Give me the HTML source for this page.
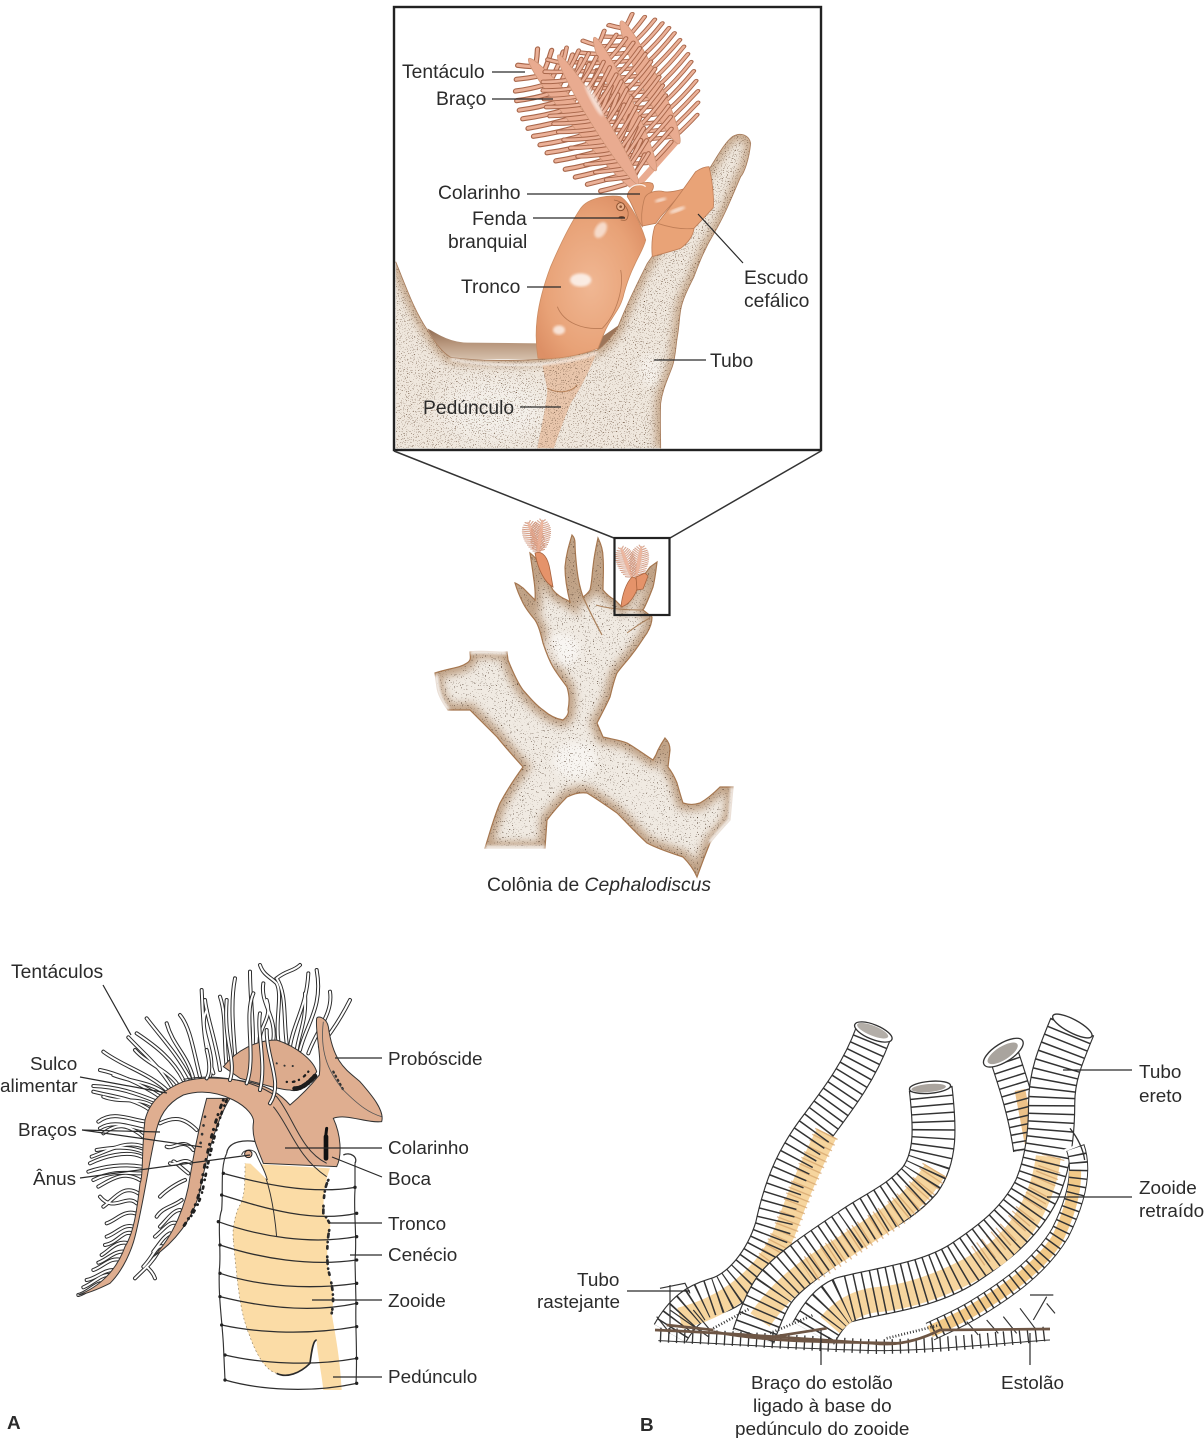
<!DOCTYPE html>
<html><head><meta charset="utf-8"><style>
html,body{margin:0;padding:0;background:#fff}
svg{display:block}
text{font-family:"Liberation Sans",sans-serif;font-size:18.9px;fill:#2b2b2b}
.big text,text.big{font-size:19.3px}
.ld{stroke:#2a2a2a;stroke-width:1.2;fill:none}
</style></head><body>
<svg width="1204" height="1438" viewBox="0 0 1204 1438" xmlns="http://www.w3.org/2000/svg">
<defs>
<filter id="spA" x="0" y="0" width="100%" height="100%" color-interpolation-filters="sRGB"><feTurbulence type="fractalNoise" baseFrequency=".3" numOctaves="2" seed="5"/><feColorMatrix values="0 0 0 0 .4 0 0 0 0 .3 0 0 0 0 .22 11 0 0 0 -7.1"/><feComposite in2="SourceAlpha" operator="in"/></filter>
<filter id="spB" x="0" y="0" width="100%" height="100%" color-interpolation-filters="sRGB"><feTurbulence type="fractalNoise" baseFrequency=".75" numOctaves="2" seed="8"/><feColorMatrix values="0 0 0 0 .3 0 0 0 0 .22 0 0 0 0 .16 11 0 0 0 -7.4"/><feComposite in2="SourceAlpha" operator="in"/></filter>
<filter id="b1"><feGaussianBlur stdDeviation="1.5"/></filter>
<filter id="b4"><feGaussianBlur stdDeviation="4"/></filter>
<filter id="b12" x="-30%" y="-30%" width="160%" height="160%"><feGaussianBlur stdDeviation="12"/></filter>
<filter id="b30" x="-50%" y="-50%" width="200%" height="200%"><feGaussianBlur stdDeviation="30"/></filter>
<radialGradient id="gT" cx=".5" cy=".55" r=".6"><stop offset="0" stop-color="#f0b793"/><stop offset=".7" stop-color="#e8a277"/><stop offset="1" stop-color="#dd9066"/></radialGradient>
<linearGradient id="gW" x1="0" y1="0" x2="0" y2="1"><stop offset="0" stop-color="#8f6a50"/><stop offset=".5" stop-color="#b8977d"/><stop offset="1" stop-color="#d5c0ac"/></linearGradient>
<path id="fr" d="M5,785 C40,870 60,930 100,990 C130,1040 150,1060 170,1072 C260,1085 360,1082 450,1078 C510,1070 570,1062 610,1050 C640,1030 660,1000 670,985 C700,910 730,850 760,790 C830,690 900,590 950,500 C975,460 995,425 1015,410 C1040,395 1065,405 1070,430 C1065,480 1050,520 1040,530 C1010,600 990,650 960,700 C930,750 915,790 900,830 C880,870 865,900 860,930 C855,960 855,985 850,1010 C845,1040 845,1070 835,1100 C820,1140 805,1170 800,1210 C798,1260 800,1300 800,1345 L5,1345 Z"/>
<path id="frE" d="M5,785 C40,870 60,930 100,990 C130,1040 150,1060 170,1072 C260,1085 360,1082 450,1078 C510,1070 570,1062 610,1050 C640,1030 660,1000 670,985 C700,910 730,850 760,790 C830,690 900,590 950,500 C975,460 995,425 1015,410 C1040,395 1065,405 1070,430 C1065,480 1050,520 1040,530 C1010,600 990,650 960,700 C930,750 915,790 900,830 C880,870 865,900 860,930 C855,960 855,985 850,1010 C845,1040 845,1070 835,1100 C820,1140 805,1170 800,1210 C798,1260 800,1300 800,1345"/>
<clipPath id="frc"><use href="#fr"/></clipPath>
<path id="col" d="M435,673 C450,668 460,668 467,663 C472,660 470,656 470,652 C485,650 495,653 507,652 L508,660 C512,670 517,682 523,690 C530,698 536,705 543,710 C550,716 556,719 563,720 C568,716 569,712 568,710 C570,700 569,694 567,687 C562,680 557,674 553,667 C549,660 546,652 543,643 C541,635 539,626 535,620 C530,614 526,609 523,603 C520,597 517,590 515,583 C518,584 520,586 523,588 L535,600 C536,590 534,582 533,573 L530,553 C535,557 539,562 542,567 C546,575 549,583 553,590 C557,595 562,598 567,600 L570,602 C567,590 565,578 565,567 C566,555 569,545 572,535 C574,537 575,540 575,543 C575,552 576,561 577,570 C578,579 580,588 583,597 C586,595 588,593 590,590 C592,582 592,574 593,567 C594,557 596,547 598,538 C601,544 603,550 603,557 C604,568 603,579 603,590 C607,595 611,598 615,600 L622,607 L628,597 L650,567 L657,562 C656,570 655,579 653,587 C650,595 647,603 643,610 L652,617 C652,622 650,628 647,633 C642,640 638,647 633,653 C628,660 622,666 617,673 C614,680 612,689 610,697 C606,706 601,715 597,723 L603,737 C611,739 620,740 627,743 C636,748 645,755 653,760 C655,757 657,753 658,750 C660,746 663,741 665,738 C668,741 670,745 670,750 L668,767 C672,772 675,778 677,783 C679,790 681,797 683,803 C689,805 694,805 700,803 C707,799 714,793 720,787 L733,787 L730,820 C723,828 716,835 710,843 C705,855 701,866 697,877 C694,870 689,863 683,857 C671,853 658,849 647,843 C636,833 627,823 617,813 C607,806 597,799 587,793 C580,792 573,794 567,797 C560,804 553,812 547,820 L545,848 L485,848 C490,832 494,817 500,803 C507,790 515,778 523,767 C514,757 505,747 497,737 C488,728 479,719 470,710 L448,710 C442,702 438,695 437,687 Z"/>
<clipPath id="colc"><use href="#col"/></clipPath>
<g id="teeth" fill="none" stroke-linecap="round">
 <path d="M20,12 Q35,45 50,71 M50,12 Q68,50 88,86 M80,12 Q100,55 125,98 M110,12 Q130,60 160,105 M140,12 Q162,60 195,110 M170,12 Q192,62 228,114 M200,12 Q222,62 258,115 M230,12 Q252,62 288,114 M260,12 Q282,60 315,112 M290,12 Q312,60 345,107 M320,12 Q340,58 370,100 M350,12 Q368,52 395,90 M380,12 Q396,46 418,77 M410,10 Q425,35 442,57 M440,5 Q455,20 470,32"/>
</g>
<g id="arm">
 <use href="#teeth" stroke="#a8664a" stroke-width="14"/>
 <use href="#teeth" stroke="#a8664a" stroke-width="14" transform="scale(1,-1)"/>
 <use href="#teeth" stroke="#ebb198" stroke-width="8"/>
 <use href="#teeth" stroke="#ebb198" stroke-width="8" transform="scale(1,-1)"/>
 <ellipse cx="225" cy="0" rx="240" ry="22" fill="#e9ab90" stroke="#cf9678" stroke-width="2"/>
</g>
<g id="tb" fill="none" stroke-linecap="round">
<path d="M660,300 C640,220 670,140 650,100 C630,80 610,75 600,45"/>
<path d="M680,280 C670,200 680,130 650,85 C680,60 700,65 720,45"/>
<path d="M690,290 C700,220 740,170 745,70"/>
<path d="M720,300 C740,220 790,170 770,60"/>
<path d="M745,310 C770,240 820,190 810,125"/>
<path d="M780,290 C820,240 850,190 870,150"/>
<path d="M640,270 C650,200 600,160 610,100"/>
<path d="M570,370 C590,260 570,170 570,65"/>
<path d="M530,370 C520,250 510,160 525,85"/>
<path d="M500,350 C490,260 500,200 480,140"/>
<path d="M480,360 C470,280 440,200 435,150"/>
<path d="M460,370 C430,280 430,220 425,120"/>
<path d="M420,380 C400,300 390,230 360,195"/>
<path d="M390,385 C350,310 310,270 260,205"/>
<path d="M370,390 C340,330 290,290 230,250"/>
<path d="M335,410 C290,340 260,320 205,262"/>
<path d="M325,425 C270,370 190,350 130,305"/>
<path d="M300,440 C240,400 170,370 120,360"/>
<path d="M290,455 C230,430 170,410 100,408"/>
<path d="M270,480 C220,445 160,440 100,425"/>
<path d="M260,515 C210,510 160,480 115,515"/>
<path d="M250,560 C200,520 170,520 130,550"/>
<path d="M250,590 C200,570 150,600 95,620"/>
<path d="M245,620 C200,600 130,620 90,640"/>
<path d="M245,650 C190,640 130,650 85,665"/>
<path d="M240,690 C190,660 150,690 115,710"/>
<path d="M235,730 C190,700 160,750 130,770"/>
<path d="M225,790 C190,780 170,810 140,820"/>
<path d="M220,830 C190,820 170,850 140,860"/>
<path d="M205,880 C170,870 150,900 125,915"/>
<path d="M185,930 C150,920 130,950 100,960"/>
<path d="M160,960 C130,960 110,985 80,990"/>
<path d="M120,1000 C100,1005 80,1030 55,1035"/>
<path d="M410,540 C370,500 340,500 300,520"/>
<path d="M400,600 C370,560 340,600 320,590"/>
<path d="M385,670 C360,650 340,630 340,635"/>
<path d="M375,690 C350,700 320,720 300,740"/>
<path d="M365,750 C340,770 310,770 290,800"/>
<path d="M350,820 C330,810 310,840 285,860"/>
<path d="M310,890 C290,880 280,920 250,950"/>
<path d="M295,905 C275,940 250,960 225,985"/>
<path d="M260,950 C270,960 280,970 285,985"/>
</g>
<g id="tb2" fill="none" stroke-linecap="round">
<path d="M450,380 C470,300 410,240 440,180"/>
<path d="M400,385 C380,310 340,290 320,220"/>
<path d="M350,400 C320,360 260,340 225,300"/>
<path d="M315,430 C270,395 210,395 160,375"/>
<path d="M280,470 C240,440 180,460 130,440"/>
<path d="M255,540 C210,530 160,510 120,535"/>
<path d="M248,605 C210,590 170,590 110,600"/>
<path d="M242,670 C200,670 160,660 100,690"/>
<path d="M230,760 C200,730 160,790 120,740"/>
<path d="M215,850 C190,840 170,880 135,885"/>
<path d="M195,905 C165,900 140,930 115,938"/>
<path d="M145,975 C120,975 100,1000 70,1012"/>
<path d="M395,640 C370,620 350,650 330,640"/>
<path d="M360,780 C340,780 320,810 300,830"/>
<path d="M330,850 C310,860 300,880 280,905"/>
<path d="M600,290 C590,230 640,210 620,150"/>
<path d="M710,300 C720,240 740,210 735,130"/>
</g>
<g id="tf" fill="none" stroke-linecap="round">
<path d="M600,420 C620,340 590,250 600,190"/>
<path d="M560,400 C590,320 550,200 580,130"/>
<path d="M630,460 C670,400 620,330 620,240"/>
<path d="M510,390 C530,330 490,280 500,150"/>
<path d="M440,385 C450,370 450,340 440,300"/>
</g>
<path id="p1" d="M700,100 C660,210 600,290 540,370 C470,460 430,540 400,680 C370,780 300,870 220,890 C170,905 130,930 90,1000"/>
<path id="p2" d="M872,265 C885,380 890,470 840,540 C780,610 700,640 630,690 C540,750 450,810 410,860 C385,890 360,950 340,1010"/>
<path id="p3" d="M1297,80 C1260,170 1235,230 1235,310 C1235,400 1225,490 1190,570 C1140,670 1060,730 970,790 C860,860 720,870 610,900 C575,915 550,945 520,1000"/>
<path id="p4" d="M1090,160 C1120,250 1150,340 1165,450"/>
<path id="p5" d="M1305,440 C1330,510 1310,600 1260,700 C1200,800 1100,870 1000,930 C950,960 900,980 870,995"/>
</defs>

<!-- TOP FRAME -->
<rect x="394" y="7" width="427" height="443" fill="#fff" stroke="#222" stroke-width="2.4"/>
<g transform="translate(394,0) scale(.33333)">
 <path d="M730,555 L850,420 M730,555 L780,500" stroke="#e9ab90" stroke-width="20" fill="none"/>
 <use href="#arm" transform="translate(850,420) rotate(-115.3) scale(.85,1.2)"/>
 <use href="#arm" transform="translate(780,500) rotate(-114.8) scale(.92,1.1)"/>
 <use href="#arm" transform="translate(720,560) rotate(-129.4) scale(1.07,1.2)"/>
 <use href="#arm" transform="translate(725,540) rotate(-121.9) scale(.95,1.05)"/>
 <ellipse cx="600" cy="300" rx="55" ry="9" transform="rotate(62 600 300)" fill="#fff" opacity=".6" filter="url(#b4)"/>
 <!-- back wall -->
 <path d="M100,985 C130,1000 160,1025 220,1028 L440,1030 L440,1078 L170,1078 C140,1050 115,1015 100,985Z" fill="url(#gW)"/>
 <path d="M610,1020 L675,975 L660,1030 L610,1055Z" fill="#9c7559"/>
 <!-- tube -->
 <use href="#fr" fill="#efe7dd"/>
 <g clip-path="url(#frc)">
  <use href="#frE" fill="none" stroke="#a8794f" stroke-width="34" opacity=".55" filter="url(#b12)"/>
  <ellipse cx="300" cy="1230" rx="160" ry="90" fill="#f7f5f2" opacity=".6" filter="url(#b30)"/>
  <ellipse cx="770" cy="1110" rx="30" ry="50" fill="#fff" opacity=".4" filter="url(#b12)"/>
  <path d="M445,1095 L610,1055 C590,1100 570,1150 530,1210 C510,1260 490,1310 480,1345 L430,1345 C440,1290 455,1230 460,1170Z" fill="#e6ba99" opacity=".75"/>
  <path d="M460,1165 C490,1180 530,1180 550,1155" fill="none" stroke="#b88259" stroke-width="3"/>
  <use href="#fr" filter="url(#spA)"/>
 </g>
 <use href="#frE" fill="none" stroke="#a77c5c" stroke-width="2.5"/>
 <path d="M170,1078 C260,1095 360,1098 450,1092 C510,1085 570,1075 610,1058" fill="none" stroke="#fff" stroke-width="9" opacity=".7" filter="url(#b4)"/>
 <!-- collar, head, shield -->
 <path d="M700,590 C700,560 750,540 775,550 C790,570 750,590 755,610 L745,680 C730,660 720,620 700,590Z" fill="#e49c72" stroke="#c07e57" stroke-width="2.5"/>
 <path d="M700,575 C715,550 745,550 755,560" fill="none" stroke="#fff" stroke-width="4" opacity=".8"/>
 <path d="M750,600 C755,575 790,570 810,575 C830,578 850,572 875,565 L800,650 L785,670 L745,678 C740,650 745,620 750,600Z" fill="#e79e74" stroke="#c07e57" stroke-width="2.5"/>
 <path d="M905,515 C920,505 935,500 945,500 C955,540 960,590 958,622 C935,650 915,668 900,685 C897,710 880,730 860,745 C830,755 800,762 775,770 C772,740 775,705 782,680 C815,640 860,580 905,515 Z" fill="#e9a377" stroke="#c07e57" stroke-width="2.5"/>
 <path d="M790,670 C820,680 860,690 900,685" fill="none" stroke="#c07e57" stroke-width="2.5"/>
 <ellipse cx="850" cy="630" rx="25" ry="6" transform="rotate(-20 850 630)" fill="#fff" opacity=".65" filter="url(#b4)"/>
 <ellipse cx="800" cy="600" rx="18" ry="5" transform="rotate(-15 800 600)" fill="#fff" opacity=".7" filter="url(#b4)"/>
 <!-- trunk -->
 <path d="M432,1075 C420,1000 425,920 470,800 C500,730 530,670 560,625 C585,590 650,585 680,590 C710,610 740,670 755,720 C745,760 715,790 690,880 C680,930 650,950 630,1000 L612,1045 C560,1065 490,1080 432,1075 Z" fill="url(#gT)" stroke="#cc8c62" stroke-width="2.5"/>
 <path d="M490,920 C510,970 570,990 625,985 C670,940 690,860 680,810" fill="none" stroke="#bb7b55" stroke-width="2.5"/>
 <ellipse cx="560" cy="840" rx="32" ry="20" fill="#fff" opacity=".75" filter="url(#b4)"/>
 <ellipse cx="620" cy="690" rx="16" ry="26" transform="rotate(30 620 690)" fill="#fff" opacity=".6" filter="url(#b4)"/>
 <ellipse cx="495" cy="990" rx="18" ry="14" fill="#fff" opacity=".7" filter="url(#b4)"/>
 <path d="M660,600 C690,605 710,630 700,655 C695,665 685,660 680,660" fill="none" stroke="#a86a45" stroke-width="2.5"/>
 <circle cx="680" cy="620" r="12" fill="#eab08a" stroke="#8a5232" stroke-width="3"/><circle cx="680" cy="620" r="4" fill="#8a5232"/>
 <ellipse cx="683" cy="652" rx="9" ry="4" fill="#7a4a30"/>
</g>

<!-- connector lines -->
<path d="M394,451 L614,538 M821,451 L670,538" stroke="#333" stroke-width="1.5" fill="none"/>

<!-- COLONY -->
<use href="#col" fill="#f0eae2"/>
<g clip-path="url(#colc)">
 <use href="#col" fill="none" stroke="#ac8460" stroke-width="13" opacity=".7" filter="url(#b4)"/>
 <ellipse cx="560" cy="650" rx="20" ry="16" fill="#fff" opacity=".55" filter="url(#b4)"/>
 <ellipse cx="575" cy="760" rx="22" ry="18" fill="#fff" opacity=".5" filter="url(#b4)"/>
 <use href="#col" filter="url(#spB)"/>
 <path d="M583,597 C590,612 596,624 602,635" fill="none" stroke="#a9805c" stroke-width="1.3"/>
 <path d="M596,605 C606,608 620,610 643,610" fill="none" stroke="#a9805c" stroke-width="1"/>
 <path d="M627,633 C635,627 642,622 650,618" fill="none" stroke="#a9805c" stroke-width="1"/>
</g>
<use href="#col" fill="none" stroke="#a5764f" stroke-width="1.2"/>
<path d="M470,652 C485,650 495,653 507,652 M733,787 L730,820 C723,828 716,835 710,843 M545,848 L485,848 M448,710 C442,702 437,695 436,675" fill="none" stroke="#fff" stroke-width="4" filter="url(#b1)"/>
<!-- mini zooids -->
<use href="#arm" transform="translate(540,552) rotate(-112) scale(.07,.085)" opacity=".85"/>
<use href="#arm" transform="translate(538,552) rotate(-82) scale(.07,.085)" opacity=".85"/>
<path d="M535,553 C543,550 548,558 550,570 L553,587 C545,583 538,570 535,553Z" fill="#e5936a" stroke="#a8633e" stroke-width=".8"/>
<use href="#arm" transform="translate(632,578) rotate(-110) scale(.07,.08)" opacity=".85"/>
<use href="#arm" transform="translate(636,578) rotate(-80) scale(.07,.08)" opacity=".85"/>
<path d="M621,607 C622,595 626,583 632,577 C638,577 639,585 636,592 C632,600 628,605 621,607Z" fill="#e5936a" stroke="#a8633e" stroke-width=".8"/>
<path d="M636,577 L645,573 L648,576 L643,589 L637,590Z" fill="#e5936a" stroke="#a8633e" stroke-width=".8"/>
<rect x="614.5" y="538" width="55" height="77" fill="none" stroke="#222" stroke-width="2.2"/>

<!-- FIGURE A -->
<g transform="translate(60,950) scale(.33333)">
 <use href="#tb" stroke="#2d2d2d" stroke-width="12"/>
 <use href="#tb2" stroke="#2d2d2d" stroke-width="12"/>
 <use href="#tb" stroke="#fff" stroke-width="6"/>
 <use href="#tb2" stroke="#fff" stroke-width="6"/>
 <path d="M490,350 C530,300 590,270 650,270 C710,290 760,330 770,365 C750,400 720,430 690,420 C660,420 600,400 540,385 Z" fill="#dcab8d" stroke="#333" stroke-width="3"/>
 <path d="M765,378 C745,400 720,420 700,415" fill="none" stroke="#1c1c1c" stroke-width="14" stroke-linecap="round" stroke-dasharray="4 6 10 7"/>
 <path d="M745,365 C725,390 705,400 675,395" fill="none" stroke="#1c1c1c" stroke-width="7" stroke-linecap="round" stroke-dasharray=".5 14 5 18"/>
 <path d="M650,340 C670,350 700,350 720,345" fill="none" stroke="#333" stroke-width="6" stroke-linecap="round" stroke-dasharray=".5 24"/>
 <path d="M440,445 C420,520 400,620 390,680 C380,760 340,860 280,920 C340,880 400,810 420,720 C440,620 470,510 510,445 Z" fill="#dcab8d" stroke="#333" stroke-width="3"/>
 <path d="M490,450 C462,520 440,610 420,720 C408,770 390,800 370,830" fill="none" stroke="#1f1f1f" stroke-width="9" stroke-linecap="round" stroke-dasharray=".5 16 8 22"/>
 <path d="M500,450 C470,520 450,610 430,710 C420,760 400,790 385,810" fill="none" stroke="#1f1f1f" stroke-width="8" stroke-linecap="round" stroke-dasharray="6 12 .5 20"/>
 <path d="M435,500 L420,590" stroke="#333" stroke-width="8" stroke-linecap="round" stroke-dasharray=".5 26" fill="none"/>
 <!-- back rings -->
 <path d="M500,610 C505,570 560,570 590,575 M850,615 C870,605 895,620 885,640" fill="none" stroke="#333" stroke-width="4"/>
 <path d="M500,610 C480,650 490,720 485,780 C470,820 485,900 478,960 C475,1040 485,1100 490,1180 L495,1290 M885,640 L885,720 C880,790 892,860 885,930 L888,1060 C885,1130 893,1200 888,1300" fill="none" stroke="#333" stroke-width="3.5"/>
 <!-- zooid -->
 <path d="M555,640 L810,655 C800,680 790,720 790,790 C805,810 815,830 810,830 C800,870 800,930 805,960 C815,1000 825,1040 815,1090 C825,1150 840,1220 845,1320 L790,1320 C785,1270 770,1200 770,1170 C760,1170 755,1200 750,1240 C720,1270 680,1285 650,1270 C610,1260 580,1190 570,1160 C545,1100 535,1040 520,870 C515,830 530,780 540,765 C555,740 555,690 555,640Z" fill="#fbdca6"/>
 <path d="M805,690 C795,710 790,740 790,790 C805,810 815,830 810,830 C800,870 800,930 805,960 C815,1000 825,1040 815,1090" fill="none" stroke="#2a2a2a" stroke-width="8" stroke-linecap="round" stroke-dasharray="2 9 11 14 .5 12 7 24"/>
 <path d="M770,1170 C760,1170 755,1200 750,1240 C720,1270 680,1285 650,1270" fill="none" stroke="#2a2a2a" stroke-width="5"/>
 <path d="M600,640 C620,680 640,750 650,860" fill="none" stroke="#333" stroke-width="3"/>
 <path d="M520,870 C515,830 530,780 540,765 C555,740 555,690 555,640 M650,1270 C610,1260 580,1190 570,1160 C545,1100 535,1040 520,870" fill="none" stroke="#8a7a5f" stroke-width="2" stroke-dasharray="5 8"/>
 <!-- body -->
 <path d="M55,1035 C90,1030 130,1010 150,1000 C190,960 215,900 225,860 C250,760 265,650 285,560 C295,500 320,460 370,435 C420,420 470,425 520,450 C560,470 585,500 580,520 C575,560 590,590 610,640 L830,650 C845,620 845,560 820,505 C860,490 920,520 965,515 C975,480 930,430 900,395 C860,360 820,340 805,230 C800,205 775,195 770,205 C765,250 785,310 778,375 C750,410 720,440 690,465 C660,430 620,405 560,395 C480,380 420,380 370,395 C310,420 270,450 255,510 C245,590 250,680 240,700 C230,790 220,850 195,890 C170,960 120,1010 55,1035 Z" fill="#dfae90" stroke="#333" stroke-width="3"/>
 <path d="M370,388 C470,370 580,390 650,440 C700,500 720,600 800,640" fill="none" stroke="#333" stroke-width="3"/>
 <path d="M640,470 C690,530 710,620 800,680" fill="none" stroke="#333" stroke-width="3"/>
 <path d="M800,535 L797,560" stroke="#111" stroke-width="9" stroke-linecap="round"/>
 <path d="M798,560 L798,640" stroke="#111" stroke-width="14" stroke-dasharray="20 2 10 3 30" stroke-linecap="round"/>
 <path d="M820,365 L850,420" stroke="#333" stroke-width="7" stroke-linecap="round" stroke-dasharray="3 11" fill="none"/>
 <path d="M790,215 C780,300 800,360 850,420 C900,470 930,490 965,500" fill="none" stroke="#555" stroke-width="2.5"/>
 <use href="#tf" stroke="#2d2d2d" stroke-width="12"/>
 <use href="#tf" stroke="#fff" stroke-width="6"/>
 <!-- anus -->
 <path d="M545,615 C550,595 585,595 590,615 C600,640 615,660 622,690" fill="#fff" stroke="#333" stroke-width="3"/>
 <circle cx="565" cy="612" r="11" fill="#dfae90" stroke="#222" stroke-width="3"/>
 <!-- rings front -->
 <g fill="none" stroke="#2e2e2e" stroke-width="3.8">
  <path d="M490,670 C600,700 750,735 885,712"/>
  <path d="M485,735 C600,770 750,820 890,790"/>
  <path d="M475,815 C600,860 750,885 890,860"/>
  <path d="M480,885 C600,925 750,950 890,930"/>
  <path d="M480,970 C600,1010 750,1020 890,1000"/>
  <path d="M480,1040 C600,1070 750,1090 890,1060"/>
  <path d="M485,1125 C600,1150 750,1155 890,1130"/>
  <path d="M495,1215 C600,1240 750,1250 890,1225"/>
  <path d="M495,1290 C600,1320 750,1330 890,1300"/>
 </g>
 <g fill="#222">
  <circle cx="490" cy="670" r="5"/><circle cx="885" cy="712" r="5"/><circle cx="485" cy="735" r="5"/><circle cx="890" cy="790" r="5"/><circle cx="475" cy="815" r="5"/><circle cx="890" cy="860" r="5"/><circle cx="480" cy="885" r="5"/><circle cx="890" cy="930" r="5"/><circle cx="480" cy="970" r="5"/><circle cx="890" cy="1000" r="5"/><circle cx="480" cy="1040" r="5"/><circle cx="890" cy="1060" r="5"/><circle cx="485" cy="1125" r="5"/><circle cx="890" cy="1130" r="5"/><circle cx="495" cy="1215" r="5"/><circle cx="890" cy="1225" r="5"/><circle cx="495" cy="1290" r="5"/><circle cx="890" cy="1300" r="5"/>
 </g>
</g>

<!-- FIGURE B -->
<g transform="translate(640,1000) scale(.33333)" fill="none">
 <!-- tube 4 -->
 <use href="#p4" stroke="#333" stroke-width="92"/><use href="#p4" stroke="#fff" stroke-width="85"/>
 <path d="M1140,270 L1170,430" stroke="#ecc188" stroke-width="32"/>
 <use href="#p4" stroke="#333" stroke-width="90" stroke-dasharray="4.5 20"/>
 <ellipse cx="1090" cy="158" rx="68" ry="28" transform="rotate(-32 1090 158)" fill="#fff" stroke="#333" stroke-width="4"/>
 <ellipse cx="1088" cy="160" rx="52" ry="20" transform="rotate(-32 1088 160)" fill="#a9a49e"/>
 <!-- tube 1 -->
 <use href="#p1" stroke="#333" stroke-width="112"/><use href="#p1" stroke="#fff" stroke-width="105"/>
 <path d="M560,400 C500,520 470,600 440,680 C400,790 300,910 120,955" stroke="#f6d59e" stroke-width="65"/>
 <path d="M560,400 C500,520 470,600 440,680 C425,720 405,760 380,790" stroke="#d3a068" stroke-width="75" stroke-dasharray="4 15" opacity=".7"/>
 <use href="#p1" stroke="#333" stroke-width="110" stroke-dasharray="4.5 20"/>
 <ellipse cx="700" cy="96" rx="60" ry="22" transform="rotate(22 700 96)" fill="#fff" stroke="#333" stroke-width="4"/>
 <ellipse cx="698" cy="92" rx="50" ry="15" transform="rotate(22 698 92)" fill="#b3aea8"/>
 <!-- tube 2 -->
 <use href="#p2" stroke="#333" stroke-width="132"/><use href="#p2" stroke="#fff" stroke-width="125"/>
 <path d="M885,510 C820,620 720,670 630,730 C540,790 450,830 360,960" stroke="#f6d59e" stroke-width="70"/>
 <path d="M885,510 C820,620 720,670 630,730 C580,765 540,790 500,815" stroke="#d3a068" stroke-width="85" stroke-dasharray="4 15" opacity=".7"/>
 <use href="#p2" stroke="#333" stroke-width="130" stroke-dasharray="4.5 20"/>
 <ellipse cx="870" cy="262" rx="62" ry="18" transform="rotate(-5 870 262)" fill="#fff" stroke="#333" stroke-width="4"/>
 <ellipse cx="866" cy="264" rx="52" ry="12" transform="rotate(-5 866 264)" fill="#aaa49e"/>
 <!-- tube 3 -->
 <use href="#p3" stroke="#333" stroke-width="142"/><use href="#p3" stroke="#fff" stroke-width="135"/>
 <path d="M1225,470 C1215,560 1170,680 1070,760 C1000,810 850,890 700,900 C640,910 600,940 570,975" stroke="#f6d59e" stroke-width="75"/>
 <path d="M1240,470 C1215,560 1170,640 1090,710 C1060,735 1040,750 1010,770" stroke="#d3a068" stroke-width="70" stroke-dasharray="4 15" opacity=".7"/>
 <use href="#p3" stroke="#333" stroke-width="140" stroke-dasharray="4.5 20"/>
 <ellipse cx="1297" cy="78" rx="66" ry="20" transform="rotate(28 1297 78)" fill="#fff" stroke="#333" stroke-width="4"/>
 <!-- tube 5 -->
 <use href="#p5" stroke="#333" stroke-width="58"/><use href="#p5" stroke="#fff" stroke-width="52"/>
 <path d="M1305,510 C1310,600 1260,700 1250,720 C1190,810 1100,870 1000,930 C950,960 900,980 870,995" stroke="#f2c988" stroke-width="36"/>
 <use href="#p5" stroke="#333" stroke-width="56" stroke-dasharray="4.5 19"/>
 <path d="M1272,452 L1334,428" stroke="#fff" stroke-width="7"/>
 <path d="M1290,385 C1310,410 1328,440 1334,480" stroke="#333" stroke-width="4"/>
 <!-- crawling network -->
 <path d="M60,1005 C300,1015 500,1030 700,1040 C900,1040 1100,1015 1230,1000" stroke="#333" stroke-width="44" stroke-dasharray="4 20"/>
 <path d="M55,1022 C300,1034 500,1048 720,1052 C900,1050 1100,1028 1230,1020" stroke="#333" stroke-width="3"/>
 <path d="M60,865 L135,850 L150,880 M90,855 L90,990 M50,950 L90,1000 M90,930 L205,1010 M160,930 L210,990 M1170,885 L1240,885 M1220,890 L1180,960 M1220,910 L1245,940 M1140,925 L1185,985 M1090,950 L1130,1000 M1040,960 L1075,1000 M980,965 L1015,1005" stroke="#333" stroke-width="3.5"/>
 <!-- stolon -->
 <path d="M45,990 C300,1000 450,1015 700,1030 C780,1040 850,1015 900,990 L1230,987 M80,975 L220,990 M220,995 C400,1030 600,1025 780,1030 M400,1010 L560,985" stroke="#6e5645" stroke-width="8"/>
 <path d="M220,985 L330,925 M390,1000 L520,945 M740,1015 L900,975" stroke="#333" stroke-width="8" stroke-dasharray="3 6"/>
</g>

<!-- LEADERS -->
<path class="ld" d="M492,72H525 M492,99H553 M527,194H640 M533,218H625 M527,287H561 M520,407H561 M743,263L698,214 M706,360H654"/>
<path class="ld" d="M103,985L131,1035 M80,1077L167,1093 M82,1130L160,1132 M82,1130L202,1147 M80,1178L250,1155 M335,1058H382 M285,1148H382 M332,1157L382,1177 M330,1223H382 M350,1255H382 M312,1300H382 M333,1377H382"/>
<path class="ld" d="M627,1291H690 M1063,1070H1132 M1047,1197H1132 M821,1330V1365 M1030,1333V1365"/>

<!-- LABELS -->
<g class="big">
<text x="402" y="78">Tentáculo</text>
<text x="436" y="105">Braço</text>
<text x="438" y="199">Colarinho</text>
<text x="472" y="225">Fenda</text>
<text x="448" y="248">branquial</text>
<text x="461" y="293">Tronco</text>
<text x="423" y="414">Pedúnculo</text>
<text x="744" y="284">Escudo</text>
<text x="744" y="307">cefálico</text>
<text x="710" y="367">Tubo</text>
<text x="487" y="891">Colônia de <tspan font-style="italic">Cephalodiscus</tspan></text>
<text x="11" y="978">Tentáculos</text>
</g>
<text x="30" y="1070">Sulco</text>
<text x="0" y="1092">alimentar</text>
<text x="18" y="1136">Braços</text>
<text x="33" y="1185">Ânus</text>
<text x="388" y="1065">Probóscide</text>
<text x="388" y="1154">Colarinho</text>
<text x="388" y="1185">Boca</text>
<text x="388" y="1230">Tronco</text>
<text x="388" y="1261">Cenécio</text>
<text x="388" y="1307">Zooide</text>
<text x="388" y="1383">Pedúnculo</text>
<text x="7" y="1429" font-weight="bold">A</text>
<text x="577" y="1286">Tubo</text>
<text x="537" y="1308">rastejante</text>
<text x="1139" y="1078">Tubo</text>
<text x="1139" y="1102">ereto</text>
<text x="1139" y="1194">Zooide</text>
<text x="1139" y="1217">retraído</text>
<text x="751" y="1389">Braço do estolão</text>
<text x="753" y="1412">ligado à base do</text>
<text x="735" y="1435">pedúnculo do zooide</text>
<text x="1001" y="1389">Estolão</text>
<text x="640" y="1431" font-weight="bold">B</text>
</svg>
</body></html>
